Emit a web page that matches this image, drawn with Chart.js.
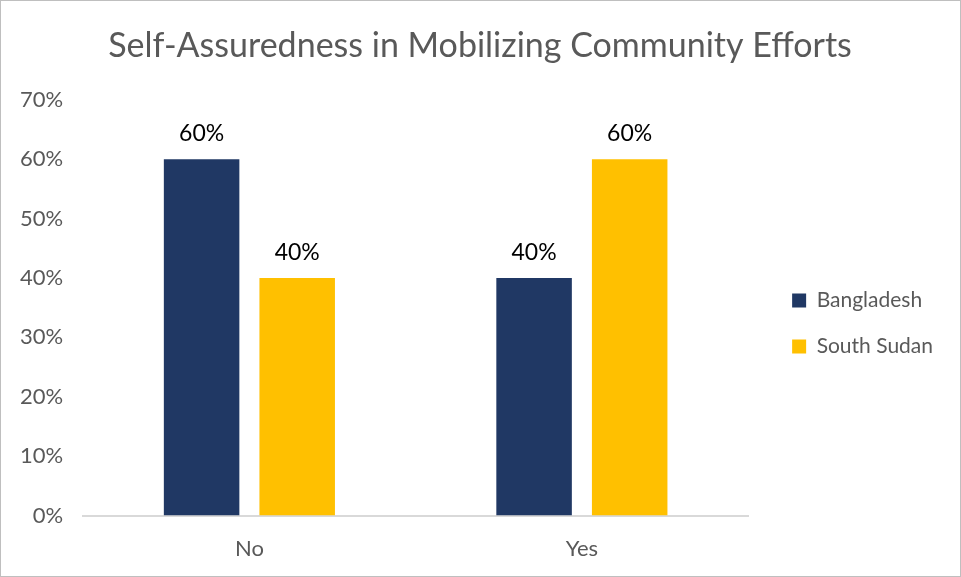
<!DOCTYPE html>
<html>
<head>
<meta charset="utf-8">
<script src="https://cdn.jsdelivr.net/npm/chart.js@4.4.0/dist/chart.umd.min.js"></script>
<style>
  html, body { margin: 0; padding: 0; background: #fff; }
  #wrap { width: 961px; height: 577px; box-sizing: border-box; border: 1px solid #bfbfbf; }
</style>
</head>
<body>
<div id="wrap"><canvas id="chart"></canvas></div>
<script>
// answers and share of respondents per country
var categories = ['No', 'Yes'];
var bangladesh = [60, 40];
var southSudan = [40, 60];
var yTicks = [0, 10, 20, 30, 40, 50, 60, 70];

var FONT = 'Lato, "Open Sans", sans-serif';

// prints the percentage above each bar
var valueLabels = {
    id: 'valueLabels',
    afterDatasetsDraw: function (chart) {
        var ctx = chart.ctx;
        ctx.save();
        ctx.font = '23px ' + FONT;
        ctx.fillStyle = '#000';
        ctx.textAlign = 'center';
        ctx.textBaseline = 'alphabetic';
        chart.data.datasets.forEach(function (ds, i) {
            chart.getDatasetMeta(i).data.forEach(function (bar, j) {
                ctx.fillText(ds.data[j] + '%', bar.x, bar.y - 18);
            });
        });
        ctx.restore();
    }
};

// moves the legend a bit away from the plot and the title back to the middle
var nudge = {
    id: 'nudge',
    afterLayout: function (chart) {
        var lg = chart.legend;
        lg.left += 19; lg.right += 19;
        lg.top += 27; lg.bottom += 27;
        chart.titleBlock.left += 18;
        chart.titleBlock.right += 18;
    }
};

new Chart(document.getElementById('chart').getContext('2d'), {
    type: 'bar',
    data: {
        labels: categories,
        datasets: [{
            label: 'Bangladesh',
            data: bangladesh,
            backgroundColor: '#203864'
        }, {
            label: 'South Sudan',
            data: southSudan,
            backgroundColor: '#ffc000'
        }]
    },
    options: {
        responsive: true,
        maintainAspectRatio: false,
        animation: false,
        categoryPercentage: 0.575,
        barPercentage: 0.79,
        layout: { padding: { left: -1, right: 36, top: 10, bottom: -6 } },
        plugins: {
            title: {
                display: true,
                text: 'Self-Assuredness in Mobilizing Community Efforts',
                color: '#595959',
                font: { family: FONT, size: 34, weight: 'normal' },
                padding: { top: 15, bottom: 33 }
            },
            legend: {
                position: 'right',
                labels: {
                    color: '#595959',
                    font: { family: FONT, size: 21 },
                    boxWidth: 14,
                    boxHeight: 14,
                    padding: 25
                }
            },
            tooltip: { enabled: false }
        },
        scales: {
            x: {
                grid: { display: false, drawTicks: false },
                border: { color: '#d9d9d9', width: 2 },
                ticks: { color: '#595959', font: { family: FONT, size: 22 }, padding: 20 }
            },
            y: {
                min: 0,
                max: 70,
                grid: { display: false, drawTicks: false },
                border: { display: false },
                afterBuildTicks: function (axis) {
                    axis.ticks = yTicks.map(function (v) { return { value: v }; });
                },
                ticks: {
                    color: '#595959',
                    font: { family: FONT, size: 22 },
                    padding: 20,
                    callback: function (v) { return v + '%'; }
                }
            }
        }
    },
    plugins: [valueLabels, nudge]
});
</script>
</body>
</html>
